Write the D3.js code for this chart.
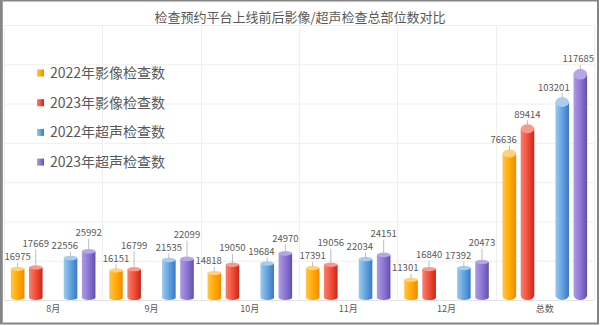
<!DOCTYPE html>
<html>
<head>
	<meta http-equiv='Content-Type' content='text/html; charset=UTF-8' />
	<title>检查预约平台上线前后影像/超声检查总部位数对比</title>
	<script src="https://d3js.org/d3.v7.min.js"></script>
	<style>
		body { margin: 0; background: #fff; }
		svg { display: block; font-family: "Noto Sans CJK SC", "Noto Sans", sans-serif; }
	</style>
</head>
<body>
<svg width="600" height="326"></svg>
<script>
	// values
	var categories = ["8月", "9月", "10月", "11月", "12月", "总数"];
	var img2022 = [16975, 16151, 14818, 17391, 11301, 76636];
	var img2023 = [17669, 16799, 19050, 19056, 16840, 89414];
	var us2022 = [22556, 21535, 19684, 22034, 17392, 103201];
	var us2023 = [25992, 22099, 24970, 24151, 20473, 117685];
	var yTicks = [0, 20000, 40000, 60000, 80000, 100000, 120000, 140000];
	var seriesNames = ["2022年影像检查数", "2023年影像检查数", "2022年超声检查数", "2023年超声检查数"];

	var series = [
		{name: seriesNames[0], group: "影像", year: "2022", values: img2022, c: ["#ffc64a", "#ffa800", "#f08a00"], cap: "#ffd27a"},
		{name: seriesNames[1], group: "影像", year: "2023", values: img2023, c: ["#fa8070", "#f04b36", "#c8261a"], cap: "#f79a8c"},
		{name: seriesNames[2], group: "超声", year: "2022", values: us2022, c: ["#9ccaee", "#5f9fdd", "#3a78c6"], cap: "#a9cdef"},
		{name: seriesNames[3], group: "超声", year: "2023", values: us2023, c: ["#ad9de4", "#8a72d2", "#6250ad"], cap: "#b5a6e6"}
	];

	var svg = d3.select("svg");
	var plot = {left: 4, right: 594, top: 25, bottom: 300};

	var x0 = d3.scaleBand().domain(categories).range([plot.left, plot.right]);
	var x1 = d3.scaleBand().domain(["影像", "超声"]).range([0, x0.bandwidth()])
		.paddingInner(0.4).paddingOuter(0.13);
	var x2 = d3.scaleBand().domain(["2022", "2023"]).range([0, x1.bandwidth()])
		.paddingInner(0.25);
	var y = d3.scaleLinear().domain([0, 140000]).range([plot.bottom, plot.top]);

	var defs = svg.append("defs");
	series.forEach(function(s, i){
		var g = defs.append("linearGradient").attr("id", "grad" + i)
			.attr("x1", "0").attr("x2", "1").attr("y1", "0").attr("y2", "0");
		g.append("stop").attr("offset", "0%").attr("stop-color", s.c[0]);
		g.append("stop").attr("offset", "55%").attr("stop-color", s.c[1]);
		g.append("stop").attr("offset", "100%").attr("stop-color", s.c[2]);
	});

	svg.append("rect").attr("width", 600).attr("height", 326).attr("fill", "#fff");

	// grid
	svg.append("g").selectAll("line")
		.data(yTicks)
		.enter().append("line")
		.attr("x1", plot.left).attr("x2", plot.right)
		.attr("y1", function(d){ return y(d) + 0.5; })
		.attr("y2", function(d){ return y(d) + 0.5; })
		.attr("stroke", function(d){ return d === 0 ? "#e4e4e4" : "#efefef"; })
		.attr("stroke-width", 1);

	var vb = categories.map(function(c){ return x0(c); }).concat([plot.right]);
	svg.append("g").selectAll("line")
		.data(vb)
		.enter().append("line")
		.attr("x1", function(d){ return Math.round(d) + 0.5; })
		.attr("x2", function(d){ return Math.round(d) + 0.5; })
		.attr("y1", plot.top).attr("y2", plot.bottom)
		.attr("stroke", "#efefef");

	// bars (cylinders)
	var bars = [];
	series.forEach(function(s, si){
		s.values.forEach(function(v, ci){
			var bx = x0(categories[ci]) + x1(s.group) + x2(s.year);
			var top = y(v);
			var h = plot.bottom - top;
			bars.push({si: si, ci: ci, v: v, x: bx, w: x2.bandwidth(), top: top, ry: 1.6 + h * 0.016});
		});
	});

	var barG = svg.append("g");
	barG.selectAll("path")
		.data(bars)
		.enter().append("path")
		.attr("fill", function(d){ return "url(#grad" + d.si + ")"; })
		.attr("d", function(d){
			var rx = d.w / 2;
			return "M" + d.x + "," + (d.top + d.ry) +
				"L" + d.x + "," + (plot.bottom - d.ry) +
				"A" + rx + "," + d.ry + " 0 0 0 " + (d.x + d.w) + "," + (plot.bottom - d.ry) +
				"L" + (d.x + d.w) + "," + (d.top + d.ry) + "Z";
		});
	barG.selectAll("ellipse")
		.data(bars)
		.enter().append("ellipse")
		.attr("cx", function(d){ return d.x + d.w / 2; })
		.attr("cy", function(d){ return d.top + d.ry; })
		.attr("rx", function(d){ return d.w / 2; })
		.attr("ry", function(d){ return d.ry; })
		.attr("fill", function(d){ return series[d.si].cap; });

	// labels: lift the 2023 label if it would hit the 2022 one,
	// and nudge a label left when it would run into the next (taller) bar
	var labelFont = 9.5;
	bars.forEach(function(d){
		d.lx = d.x + d.w / 2;
		d.ly = d.top - 10;
		d.tw = String(d.v).length * labelFont * 0.55;
	});
	bars.forEach(function(d){
		if (d.si % 2 === 1) {
			var prev = bars.filter(function(b){ return b.ci === d.ci && b.si === d.si - 1; })[0];
			var overlapX = Math.abs(prev.lx - d.lx) < (prev.tw + d.tw) / 2;
			if (overlapX && d.ly > prev.ly - 13) d.ly = prev.ly - 13;
		}
	});
	bars.forEach(function(d){
		var next = bars.filter(function(b){ return b.ci === d.ci && b.si === d.si + 1; })[0];
		if (next && next.top < d.ly + 6) {
			var maxRight = next.x - 4;
			if (d.lx + d.tw / 2 > maxRight) d.lx = maxRight - d.tw / 2;
		}
		if (d.lx + d.tw / 2 > plot.right) d.lx = plot.right - d.tw / 2;
	});

	svg.append("g").selectAll("line")
		.data(bars.filter(function(d){ return d.top - (d.ly + 6) > 3; }))
		.enter().append("line")
		.attr("x1", function(d){ return d.x + d.w / 2; }).attr("x2", function(d){ return d.x + d.w / 2; })
		.attr("y1", function(d){ return d.ly + 6; })
		.attr("y2", function(d){ return d.top + 1; })
		.attr("stroke", "#bdbdbd").attr("stroke-width", 1);

	svg.append("g").selectAll("text")
		.data(bars)
		.enter().append("text")
		.attr("x", function(d){ return d.lx; })
		.attr("y", function(d){ return d.ly; })
		.attr("dy", "0.35em")
		.attr("text-anchor", "middle")
		.attr("font-size", labelFont)
		.attr("fill", "#595959")
		.text(function(d){ return d.v; });

	// category axis labels
	svg.append("g").selectAll("text")
		.data(categories)
		.enter().append("text")
		.attr("x", function(d){ return x0(d) + x0.bandwidth() / 2; })
		.attr("y", 309)
		.attr("dy", "0.35em")
		.attr("text-anchor", "middle")
		.attr("font-size", 9)
		.attr("fill", "#595959")
		.text(function(d){ return d; });

	// title
	svg.append("text")
		.attr("x", 300).attr("y", 17).attr("dy", "0.35em")
		.attr("text-anchor", "middle")
		.attr("font-size", 13)
		.attr("fill", "#595959")
		.text("检查预约平台上线前后影像/超声检查总部位数对比");

	// legend
	var legend = svg.append("g").selectAll("g")
		.data(series)
		.enter().append("g")
		.attr("transform", function(d, i){ return "translate(37," + (73 + i * 29.7) + ")"; });
	legend.append("rect")
		.attr("y", -3.5).attr("width", 7).attr("height", 7)
		.attr("fill", function(d, i){ return "url(#grad" + i + ")"; });
	legend.append("text")
		.attr("x", 13).attr("dy", "0.35em")
		.attr("font-size", 14)
		.attr("fill", "#595959")
		.text(function(d){ return d.name; });

	// frame
	svg.append("rect")
		.attr("x", 1).attr("y", 0.5).attr("width", 597).attr("height", 323)
		.attr("fill", "none").attr("stroke", "#858585").attr("stroke-width", 2);
	svg.append("line")
		.attr("x1", 2.5).attr("x2", 2.5).attr("y1", 0).attr("y2", 324)
		.attr("stroke", "#a0a0a0").attr("stroke-width", 1);
</script>
</body>
</html>
